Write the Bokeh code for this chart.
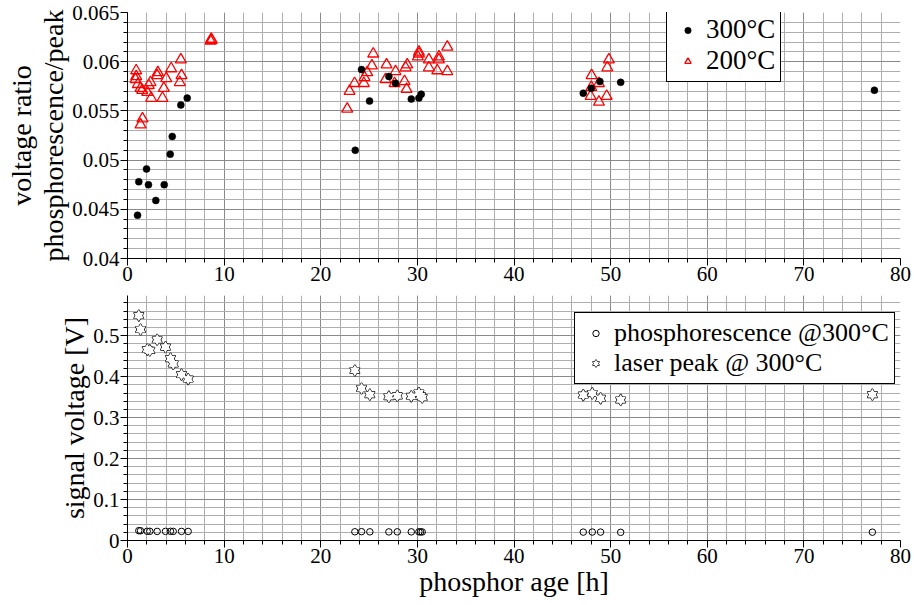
from bokeh.plotting import figure
from bokeh.layouts import column
from bokeh.models import (Range1d, SingleIntervalTicker, CustomJSTickFormatter,
                          Legend, LegendItem, ColumnDataSource)
from bokeh.embed import file_html
from bokeh.resources import INLINE

# ---------------- data ----------------
# top panel: voltage ratio phosphorescence/peak
age_300 = [1.04, 1.17, 1.97, 2.17, 2.93, 3.80, 4.42, 4.63, 5.52, 6.18,
           23.57, 24.22, 25.05, 27.05, 27.74, 29.37, 30.16, 30.40,
           47.17, 48.00, 48.89, 51.04, 77.30]
ratio_300 = [0.0444, 0.0478, 0.0491, 0.0475, 0.0459, 0.0475, 0.0506, 0.0524, 0.0556, 0.0563,
             0.0510, 0.0592, 0.0560, 0.0585, 0.0578, 0.0562, 0.0563, 0.0567,
             0.0568, 0.0573, 0.0580, 0.0579, 0.0571]

age_200 = [0.83, 0.90, 0.90, 1.07, 1.35, 1.52, 1.35, 1.55, 2.04, 2.20, 2.38, 2.45,
           3.07, 3.14, 3.62, 3.76, 4.01, 4.52, 5.41, 5.59, 5.52, 8.60, 8.66, 8.72,
           22.74, 22.98, 23.50, 24.46, 24.53, 24.81, 25.29, 25.43, 26.71, 26.81,
           27.64, 27.74, 28.67, 28.78, 28.88, 28.95, 30.05, 30.16, 30.16, 31.19,
           31.19, 32.06, 32.23, 32.23, 33.10, 33.10,
           47.93, 48.00, 48.03, 48.79, 48.79, 49.59, 49.66, 49.82]
ratio_200 = [0.0582, 0.0591, 0.0585, 0.0577, 0.0573, 0.0571, 0.0536, 0.0542, 0.0569, 0.0576, 0.0579, 0.0563,
             0.0586, 0.0589, 0.0563, 0.0573, 0.0583, 0.0593, 0.0579, 0.0586, 0.0602, 0.0621, 0.0623, 0.0622,
             0.0552, 0.0570, 0.0578, 0.0578, 0.0584, 0.0589, 0.0596, 0.0608, 0.0582, 0.0597,
             0.0578, 0.0590, 0.0580, 0.0594, 0.0572, 0.0597, 0.0605, 0.0608, 0.0610, 0.0594,
             0.0602, 0.0591, 0.0602, 0.0605, 0.0590, 0.0615,
             0.0565, 0.0574, 0.0586, 0.0559, 0.0578, 0.0565, 0.0594, 0.0602]

# bottom panel: signal voltage [V]
age_sig = [1.17, 1.35, 2.04, 2.31, 3.07, 3.93, 4.45, 4.73, 5.59, 6.28,
           23.53, 24.22, 25.08, 27.05, 27.92, 29.37, 30.16, 30.33, 30.50,
           47.17, 48.10, 48.96, 51.04, 77.09]
phos_300 = [0.0240, 0.0238, 0.0225, 0.0224, 0.0222, 0.0223, 0.0224, 0.0222, 0.0222, 0.0221,
            0.0213, 0.0216, 0.0212, 0.0210, 0.0212, 0.0211, 0.0212, 0.0210, 0.0209,
            0.0205, 0.0206, 0.0205, 0.0200, 0.0203]
peak_300 = [0.549, 0.515, 0.466, 0.464, 0.490, 0.472, 0.444, 0.431, 0.405, 0.394,
            0.415, 0.371, 0.356, 0.351, 0.353, 0.352, 0.360, 0.353, 0.349,
            0.355, 0.359, 0.347, 0.343, 0.356]

x_label = "phosphor age [h]"
y_label_top = "voltage ratio\nphosphorescence/peak"
y_label_bottom = "signal voltage [V]"
legend_top = ["300°C", "200°C"]
legend_bottom = ["phosphorescence @300°C", "laser peak @ 300°C"]

SERIF = "Liberation Serif"
FMT = "return parseFloat(tick.toFixed(4)).toString();"


def style(p, ytick, yminor):
    p.outline_line_color = None
    p.background_fill_color = "white"
    p.border_fill_color = "white"
    xt = SingleIntervalTicker(interval=10, num_minor_ticks=5)
    yt = SingleIntervalTicker(interval=ytick, num_minor_ticks=yminor)
    p.xaxis.ticker = xt
    p.yaxis.ticker = yt
    p.xgrid.ticker = xt
    p.ygrid.ticker = yt
    for ax in (p.xaxis[0], p.yaxis[0]):
        ax.axis_line_color = "black"
        ax.axis_line_width = 1
        ax.major_tick_line_color = "black"
        ax.minor_tick_line_color = "black"
        ax.major_tick_in = 0
        ax.major_tick_out = 7
        ax.minor_tick_in = 0
        ax.minor_tick_out = 4
        ax.major_label_text_font = SERIF
        ax.major_label_text_font_size = "21px"
        ax.major_label_text_color = "black"
        ax.major_label_standoff = 1
        ax.axis_label_text_font = SERIF
        ax.axis_label_text_font_size = "28px"
        ax.axis_label_text_font_style = "normal"
        ax.axis_label_text_color = "black"
        ax.axis_label_text_line_height = 1.05
        ax.axis_label_standoff = 0
        ax.formatter = CustomJSTickFormatter(code=FMT)
    for g in (p.xgrid[0], p.ygrid[0]):
        g.grid_line_color = "#8a8a8a"
        g.grid_line_width = 1
        g.minor_grid_line_color = "#aeaeae"
        g.minor_grid_line_width = 1
    p.xgrid.bounds = (0, 79)


def legend(items, loc, fs):
    return Legend(items=items, location=loc, padding=5, spacing=0, margin=0,
                  label_height=30, glyph_height=16, glyph_width=31, label_standoff=3,
                  label_text_font=SERIF, label_text_font_size=fs,
                  label_text_color="black",
                  border_line_color="black", border_line_width=1, border_line_alpha=1,
                  background_fill_color="white", background_fill_alpha=1)


W = 912
# ---------------- top panel ----------------
p1 = figure(width=W, height=292, x_range=Range1d(0, 80), y_range=Range1d(0.04, 0.065),
            output_backend="svg", toolbar_location=None,
            min_border_left=127, min_border_right=12, min_border_top=12, min_border_bottom=34)
style(p1, 0.005, 5)
p1.ygrid.bounds = (0.04, 0.0645)
p1.yaxis.axis_label = y_label_top

src300 = ColumnDataSource(dict(x=age_300, y=ratio_300))
src200 = ColumnDataSource(dict(x=age_200, y=ratio_200))
r_red = p1.scatter("x", "y", source=src200, marker="triangle", size=11,
                   fill_alpha=0, line_color="red", line_width=1.3)
r_blk = p1.scatter("x", "y", source=src300, marker="circle", size=7,
                   fill_color="black", line_color="black", line_width=0.5)

leg1 = legend([LegendItem(label=legend_top[0], renderers=[r_blk]),
               LegendItem(label=legend_top[1], renderers=[r_red])], (539, 176), "27px")
p1.add_layout(leg1)

# ---------------- bottom panel ----------------
p2 = figure(width=W, height=312, x_range=Range1d(0, 80), y_range=Range1d(0, 0.598),
            output_backend="svg", toolbar_location=None,
            min_border_left=127, min_border_right=12, min_border_top=3, min_border_bottom=64)
style(p2, 0.1, 5)
p2.yaxis.axis_label = y_label_bottom
p2.xaxis.axis_label = x_label

srcs = ColumnDataSource(dict(x=age_sig, phos=phos_300, peak=peak_300))
r_ph = p2.scatter("x", "phos", source=srcs, marker="circle", size=6.5,
                  fill_alpha=0, line_color="black", line_width=1)
s1 = p2.scatter("x", "peak", source=srcs, marker="triangle", size=10,
                fill_alpha=0, line_color="black", line_width=1.3)
s2 = p2.scatter("x", "peak", source=srcs, marker="inverted_triangle", size=10,
                fill_alpha=0, line_color="black", line_width=1.3)
s3 = p2.scatter("x", "peak", source=srcs, marker="triangle", size=10,
                fill_color="white", line_color=None)
s4 = p2.scatter("x", "peak", source=srcs, marker="inverted_triangle", size=10,
                fill_color="white", line_color=None)

leg2 = legend([LegendItem(label=legend_bottom[0], renderers=[r_ph]),
               LegendItem(label=legend_bottom[1], renderers=[s1, s2, s3, s4])], (447, 156), "26px")
p2.add_layout(leg2)

layout = column(p1, p2, spacing=0)
open("out.html", "w").write(file_html(layout, INLINE))
